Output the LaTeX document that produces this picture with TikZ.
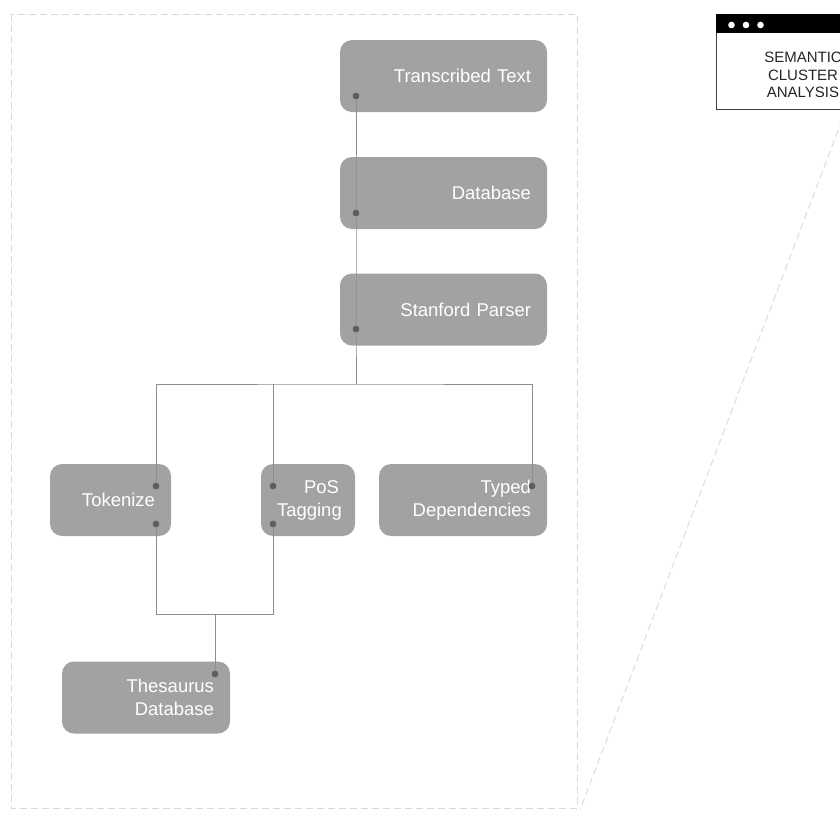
\documentclass[tikz,border=0pt]{standalone}
\usepackage{amsmath}
\usepackage{fontspec}
\setmainfont{Liberation Sans}
\usepackage{tikz}

\definecolor{boxgray}{HTML}{A3A1A2}
\definecolor{linegray}{HTML}{8E8E8E}
\definecolor{dotgray}{HTML}{5E5E5E}
\definecolor{framegray}{HTML}{D9D9D9}

\begin{document}
\begin{tikzpicture}[x=1pt,y=-1pt,
	box/.style={fill=boxgray,rounded corners=12pt,text=white,align=right,
		font=\fontsize{18.5}{23}\selectfont,inner xsep=16pt,inner ysep=0pt,minimum height=72pt},
	link/.style={draw=linegray,line width=1pt},
	dot/.style={circle,fill=dotgray,inner sep=0pt,minimum size=6.5pt},
	frame/.style={draw=framegray,line width=0.9pt,dash pattern=on 7pt off 4pt},
	window/.style={draw=black!75,line width=1pt,fill=white,minimum width=174pt,minimum height=95pt},
	wintext/.style={align=center,text=black!85,font=\fontsize{15}{17.5}\selectfont}]
					\clip (0,0) rectangle (840,812);
					\draw[frame] (11,14) rectangle (577,808);

					% boxes
					\node[box,text width=175pt] (trans) at (443.5,76) {Transcribed Text};
					\node[box,text width=175pt] (db) at (443.5,193) {Database};
					\node[box,text width=175pt] (parser) at (443.5,309.5) {Stanford Parser};
					\node[box,text width=89pt] (tok) at (110.5,500) {Tokenize};
					\node[box,text width=62pt] (pos) at (308,500) {PoS\\Tagging};
					\node[box,text width=136pt] (typed) at (463,500) {Typed\\Dependencies};
					\node[box,text width=136pt] (thes) at (146,697.5) {Thesaurus\\Database};

					% dots
					\node[dot] (trans1) at (356,96) {};
					\node[dot] (db1) at (356,213) {};
					\node[dot] (parser1) at (356,329) {};
					\node[dot] (tok1) at (156,486) {};
					\node[dot] (tok2) at (156,524) {};
					\node[dot] (pos1) at (273,486) {};
					\node[dot] (pos2) at (273,524) {};
					\node[dot] (typed1) at (532,486) {};
					\node[dot] (thes1) at (215,674) {};
					\coordinate (split) at (356,384);
					\coordinate (join) at (215,614);

					% links
					\draw[link] (trans1.center)--(db1.center)--(parser1.center)--(split);
					\draw[link] (tok1.center) |- (split) -| (typed1.center);
					\draw[link] (pos1.center)--(pos1.center |- split);
					\draw[link] (tok2.center) |- (join) -| (pos2.center);
					\draw[link] (join)--(thes1.center);
					\foreach \d in {trans1,db1,parser1,tok1,tok2,pos1,pos2,typed1,thes1}
						\fill[dotgray] (\d) circle (3.2);

					% window
					\coordinate (proj) at (580,810);
					\node[window] (win) at (803,61.5) {};
					\draw[frame] ([xshift=43pt]win.south)--(proj);
					\fill[black] (win.north west) rectangle ([yshift=-19pt]win.north east);
					\foreach \i in {0,1,2}
						\fill[white] ([xshift={(16+14.5*\i)*1pt},yshift=-11.5pt]win.north west) circle (3.3);
					\node[wintext] (wintxt) at ([yshift=-13.5pt]win.center) {SEMANTIC\\CLUSTER\\ANALYSIS};
\end{tikzpicture}
\end{document}
